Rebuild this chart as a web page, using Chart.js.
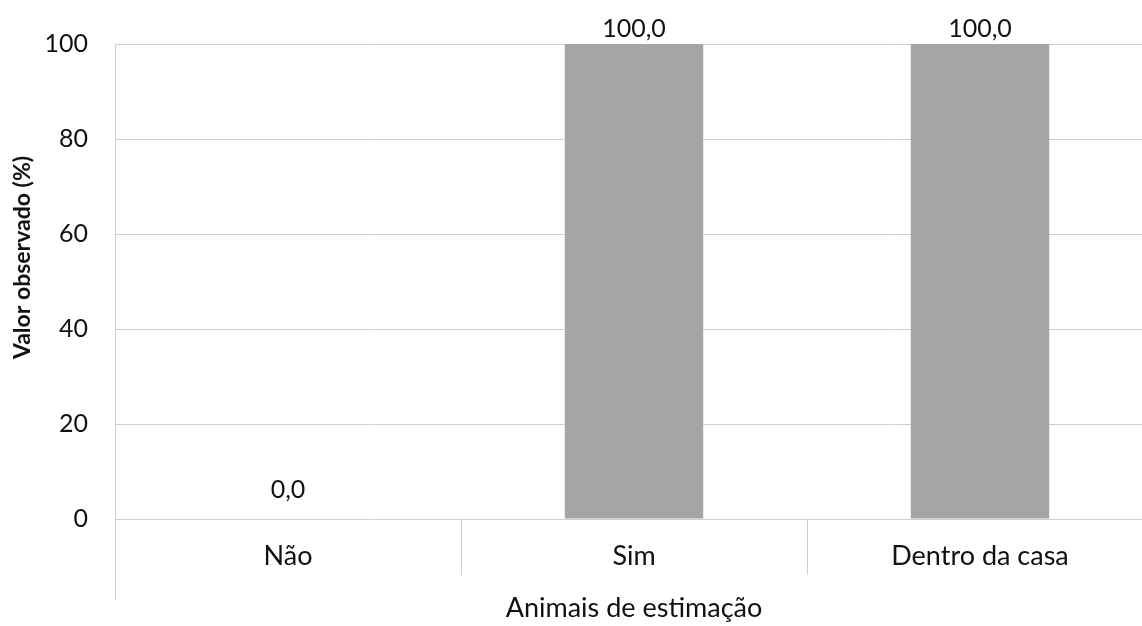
<!DOCTYPE html>
<html>
<head>
<meta charset="utf-8">
<script src="https://cdn.jsdelivr.net/npm/chart.js@4"></script>
<style>
html,body{margin:0;padding:0;background:#fff;overflow:hidden;}
#wrap{width:1142px;height:626px;overflow:hidden;position:relative;}
canvas{display:block;}
</style>
</head>
<body>
<div id="wrap"><canvas id="c" width="1170" height="626"></canvas></div>
<script>
const categories = ["Não", "Sim", "Dentro da casa"];
const values = [0.0, 100.0, 100.0];
const yTicks = [0, 20, 40, 60, 80, 100];
const xTitle = "Animais de estimação";
const yTitle = "Valor observado (%)";

const FONT = "Lato, 'Open Sans', sans-serif";
const TEXT = "#111111";
const GRID = "#d0d0d0";

const decorPlugin = {
  id: 'decor',
  afterDatasetsDraw(chart) {
    const ctx = chart.ctx;
    const area = chart.chartArea;
    const xs = chart.scales.x;
    ctx.save();
    ctx.strokeStyle = GRID;
    ctx.lineWidth = 1;
    // extended left axis line
    ctx.beginPath();
    ctx.moveTo(Math.round(area.left) + 0.5, area.top);
    ctx.lineTo(Math.round(area.left) + 0.5, area.bottom + 81);
    ctx.stroke();
    // category separators
    for (let i = 1; i < categories.length; i++) {
      const x = (xs.getPixelForValue(i - 1) + xs.getPixelForValue(i)) / 2;
      ctx.beginPath();
      ctx.moveTo(Math.round(x) + 0.5, area.bottom);
      ctx.lineTo(Math.round(x) + 0.5, area.bottom + 56);
      ctx.stroke();
    }
    // data labels
    const meta = chart.getDatasetMeta(0);
    ctx.fillStyle = TEXT;
    ctx.font = "25px " + FONT;
    ctx.textAlign = 'center';
    ctx.textBaseline = 'alphabetic';
    meta.data.forEach((bar, i) => {
      const v = values[i];
      const txt = v.toFixed(1).replace('.', ',');
      const gap = v === 0 ? 21 : 7;
      ctx.fillText(txt, bar.x, bar.y - gap);
    });
    // y axis title
    ctx.translate(23, (area.top + area.bottom) / 2 - 24);
    ctx.rotate(-Math.PI / 2);
    ctx.font = "bold 23px " + FONT;
    ctx.textBaseline = 'middle';
    ctx.fillText(yTitle, 0, 0);
    ctx.restore();
  }
};

new Chart(document.getElementById('c'), {
  type: 'bar',
  data: {
    labels: categories,
    datasets: [{
      data: values,
      backgroundColor: '#a5a5a5',
      borderWidth: 0,
      barPercentage: 0.4,
      categoryPercentage: 1.0
    }]
  },
  options: {
    responsive: false,
    animation: false,
    devicePixelRatio: 1,
    layout: { padding: { top: 44, left: 0, right: 17, bottom: 0 } },
    plugins: { legend: { display: false }, tooltip: { enabled: false } },
    scales: {
      x: {
        grid: { display: false, drawTicks: false },
        border: { display: true, color: GRID },
        ticks: { color: TEXT, font: { family: FONT, size: 27 }, padding: 21 },
        title: { display: true, text: xTitle, color: TEXT, font: { family: FONT, size: 27 }, padding: { top: 0, bottom: 2 } },
        afterFit(s) { s.height = 107; }
      },
      y: {
        min: 0, max: 100,
        afterBuildTicks(s) { s.ticks = yTicks.map(v => ({ value: v })); },
        grid: { color: GRID, drawTicks: false },
        border: { display: false },
        ticks: { color: TEXT, font: { family: FONT, size: 25 }, padding: 27 },
        title: { display: false },
        afterFit(s) { s.width = 115; }
      }
    }
  },
  plugins: [decorPlugin]
});
</script>
</body>
</html>
